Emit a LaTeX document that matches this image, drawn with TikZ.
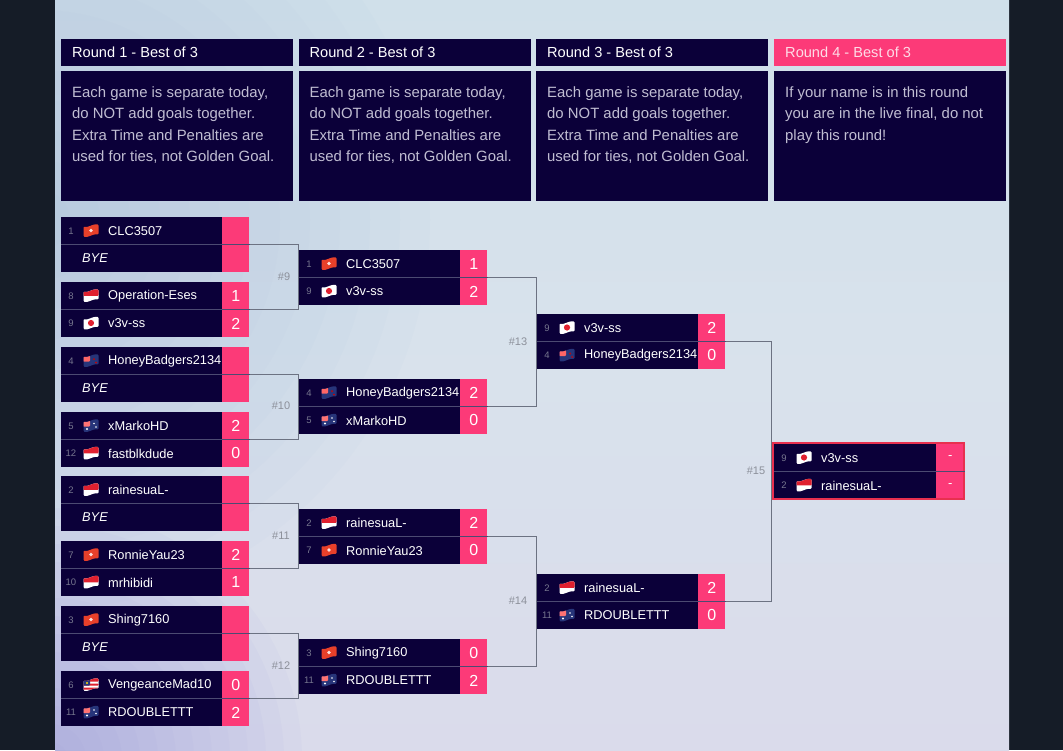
\documentclass[tikz,border=0pt]{standalone}
\usepackage{fontspec}
\setmainfont{Liberation Sans}
\definecolor{pagedark}{HTML}{151C27}
\definecolor{bgtop}{HTML}{D0E0EA}
\definecolor{bgmid}{HTML}{D9E2EC}
\definecolor{bgbot}{HTML}{DADBEB}
\definecolor{bgblue}{HTML}{8FB0D2}
\definecolor{bgcorner}{HTML}{8484D4}
\definecolor{navybox}{HTML}{0B0039}
\definecolor{pinkbox}{HTML}{FC3A78}
\definecolor{framered}{HTML}{E8304F}
\definecolor{linkgrey}{HTML}{6C7282}
\definecolor{rowline}{HTML}{4C4A72}
\definecolor{seedgrey}{HTML}{77778F}
\definecolor{notegrey}{HTML}{C0BDD2}
\definecolor{roundgrey}{HTML}{8C909A}
\definecolor{flagred}{HTML}{E0202F}
\definecolor{flagorange}{HTML}{E8402A}
\definecolor{flagblue}{HTML}{27357A}
\tikzset{
  every node/.style={inner sep=0pt},
  headbox/.style={fill=navybox,minimum width=232pt,minimum height=27pt,anchor=north west},
  headtext/.style={text=white,font=\fontsize{14.6}{17}\selectfont,anchor=west},
  notebox/.style={fill=navybox,minimum width=232pt,minimum height=130pt,anchor=north west},
  notetext/.style={text=notegrey,font=\fontsize{14.9}{21.4}\selectfont,align=left,anchor=north west},
  namebox/.style={fill=navybox,minimum width=\nomew pt,minimum height=27.5pt,anchor=north west},
  scorebox/.style={fill=pinkbox,text=white,minimum width=\puntow pt,minimum height=27.5pt,anchor=west,font=\fontsize{16}{18}\selectfont},
  seedtext/.style={text=seedgrey,font=\fontsize{9.5}{11}\selectfont},
  playertext/.style={text=white,font=\fontsize{12.8}{15}\selectfont,anchor=west},
  byetext/.style={text=white,font=\fontsize{12.8}{15}\selectfont\itshape,anchor=west},
  link/.style={draw=linkgrey,line width=1pt},
  divider/.style={draw=rowline,line width=1pt},
  matchno/.style={text=roundgrey,font=\fontsize{11}{13}\selectfont},
  finalframe/.style={draw=framered,line width=2.6pt,minimum width=191pt,minimum height=56pt},
}
\begin{document}
\begin{tikzpicture}[x=1pt,y=-1pt]
    \useasboundingbox (0,0) rectangle (1063,750);
    % --- reusable macros ----------------------------------------------
    \def\nomew{161}   % width of the player cell
    \def\puntow{27}   % width of the score cell
    \def\wave{(-7.5,-4) .. controls (-3,-2.5) and (2,-7) .. (7.5,-6) -- (7.5,4) .. controls (2,3) and (-3,7.5) .. (-7.5,6) -- cycle}
    \def\hk{\fill[flagorange] \wave; \fill[white!85!flagorange] (0,0) circle (1.9);}
    \def\idn{\fill[white] \wave; \clip (-8,-8) rectangle (8,0.3); \fill[flagred] \wave;}
    \def\jp{\fill[white] \wave; \fill[flagred] (0,0) circle (3.1);}
    \def\nz{\fill[flagblue] \wave; \clip \wave; \fill[red!60!white] (-8,-5) rectangle (-1,1); \fill[red!80!black] (3,-1.5) circle (1) (5,2) circle (1);}
    \def\au{\fill[flagblue] \wave; \clip \wave; \fill[red!55!white] (-8,-5) rectangle (-1,1); \fill[white] (3,-2) circle (0.9) (5,1.5) circle (0.9) (-4,3.5) circle (1.1);}
    \def\my{\fill[white] \wave; \clip \wave; \fill[flagred] (-8,-7) rectangle (8,-3) (-8,-1) rectangle (8,1) (-8,3) rectangle (8,5); \fill[flagblue] (-8,-5) rectangle (-1,1); \fill[yellow!85!orange] (-4,-1.5) circle (1.2);}
    % #1 name, #2 left, #3 top, #4 seed, #5 flag, #6 player, #7 score
    \def\slot#1#2#3#4#5#6#7{
        \node[namebox] (#1) at (#2,#3) {};
        \node[scorebox] (#1s) at ([xshift=-0.3pt]#1.east) {#7};
        \node[seedtext] (#1n) at ([xshift=10pt]#1.west) {#4};
        \node[playertext] (#1t) at ([xshift=47pt]#1.west) {#6};
        \begin{scope}[shift={(#2+30,#3+13.5)},rounded corners=1pt]
            \begin{scope} #5 \end{scope}
        \end{scope}
    }
    \def\byeslot#1#2#3{
        \node[namebox] (#1) at (#2,#3) {};
        \node[scorebox] (#1s) at ([xshift=-0.3pt]#1.east) {};
        \node[byetext] (#1t) at ([xshift=21pt]#1.west) {BYE};
    }
    % --- background ---------------------------------------------------
    \fill[pagedark] (0,0) rectangle (1063,750);
    \begin{scope}
        \clip (55,0) rectangle (1009,750);
        \fill[top color=bgtop,bottom color=bgbot,middle color=bgmid] (55,0) rectangle (1009,750);
        \foreach \r in {30,60,...,390}
            \fill[bgblue,opacity=0.03] (40,220) circle (\r);
        \foreach \r in {18,36,...,252}
            \fill[bgcorner,opacity=0.04] (50,760) circle (\r);
    \end{scope}
    % --- round headers ------------------------------------------------
    \node[headbox] (head1) at (61,39) {};
    \node[headbox] (head2) at (298.5,39) {};
    \node[headbox] (head3) at (536,39) {};
    \node[headbox,fill=pinkbox] (head4) at (774,39) {};
    \node[headtext] (head1t) at ([xshift=11pt]head1.west) {Round 1 - Best of 3};
    \node[headtext] (head2t) at ([xshift=11pt]head2.west) {Round 2 - Best of 3};
    \node[headtext] (head3t) at ([xshift=11pt]head3.west) {Round 3 - Best of 3};
    \node[headtext,text=white!82!pinkbox] (head4t) at ([xshift=11pt]head4.west) {Round 4 - Best of 3};
    % --- notes --------------------------------------------------------
    \def\notebody{Each game is separate today,\\do NOT add goals together.\\Extra Time and Penalties are\\used for ties, not Golden Goal.}
    \node[notebox] (note1) at (61,71) {};
    \node[notebox] (note2) at (298.5,71) {};
    \node[notebox] (note3) at (536,71) {};
    \node[notebox] (note4) at (774,71) {};
    \node[notetext] (note1t) at ([xshift=11pt,yshift=-15.5pt]note1.north west) {\notebody};
    \node[notetext] (note2t) at ([xshift=11pt,yshift=-15.5pt]note2.north west) {\notebody};
    \node[notetext] (note3t) at ([xshift=11pt,yshift=-15.5pt]note3.north west) {\notebody};
    \node[notetext] (note4t) at ([xshift=11pt,yshift=-15.5pt]note4.north west) {If your name is in this round\\you are in the live final, do not\\play this round!};
    % --- round 1 ------------------------------------------------------
    \slot{a1}{61}{217}{1}{\hk}{CLC3507}{}
    \byeslot{a2}{61}{244.5}
    \slot{a3}{61}{282}{8}{\idn}{Operation-Eses}{1}
    \slot{a4}{61}{309.5}{9}{\jp}{v3v-ss}{2}
    \slot{a5}{61}{347}{4}{\nz}{HoneyBadgers2134}{}
    \byeslot{a6}{61}{374.5}
    \slot{a7}{61}{412}{5}{\au}{xMarkoHD}{2}
    \slot{a8}{61}{439.5}{12}{\idn}{fastblkdude}{0}
    \slot{a9}{61}{476}{2}{\idn}{rainesuaL-}{}
    \byeslot{a10}{61}{503.5}
    \slot{a11}{61}{541}{7}{\hk}{RonnieYau23}{2}
    \slot{a12}{61}{568.5}{10}{\idn}{mrhibidi}{1}
    \slot{a13}{61}{606}{3}{\hk}{Shing7160}{}
    \byeslot{a14}{61}{633.5}
    \slot{a15}{61}{671}{6}{\my}{VengeanceMad10}{0}
    \slot{a16}{61}{698.5}{11}{\au}{RDOUBLETTT}{2}
    % --- round 2 ------------------------------------------------------
    \slot{b1}{299}{250}{1}{\hk}{CLC3507}{1}
    \slot{b2}{299}{277.5}{9}{\jp}{v3v-ss}{2}
    \slot{b3}{299}{379}{4}{\nz}{HoneyBadgers2134}{2}
    \slot{b4}{299}{406.5}{5}{\au}{xMarkoHD}{0}
    \slot{b5}{299}{509}{2}{\idn}{rainesuaL-}{2}
    \slot{b6}{299}{536.5}{7}{\hk}{RonnieYau23}{0}
    \slot{b7}{299}{639}{3}{\hk}{Shing7160}{0}
    \slot{b8}{299}{666.5}{11}{\au}{RDOUBLETTT}{2}
    % --- round 3 ------------------------------------------------------
    \slot{c1}{537}{314}{9}{\jp}{v3v-ss}{2}
    \slot{c2}{537}{341.5}{4}{\nz}{HoneyBadgers2134}{0}
    \slot{c3}{537}{574}{2}{\idn}{rainesuaL-}{2}
    \slot{c4}{537}{601.5}{11}{\au}{RDOUBLETTT}{0}
    % --- final --------------------------------------------------------
    \def\puntow{28}
    \def\nomew{162}
    \slot{d1}{774}{444}{9}{\jp}{v3v-ss}{\fontsize{13}{14}\selectfont -}
    \slot{d2}{774}{471.5}{2}{\idn}{rainesuaL-}{\fontsize{13}{14}\selectfont -}
    \node[finalframe] (frame) at (868.5,471) {};
    % --- row lines ----------------------------------------------------
    \draw[divider] (a1.south west) -- (a1s.south east);
    \draw[divider] (a3.south west) -- (a3s.south east);
    \draw[divider] (a5.south west) -- (a5s.south east);
    \draw[divider] (a7.south west) -- (a7s.south east);
    \draw[divider] (a9.south west) -- (a9s.south east);
    \draw[divider] (a11.south west) -- (a11s.south east);
    \draw[divider] (a13.south west) -- (a13s.south east);
    \draw[divider] (a15.south west) -- (a15s.south east);
    \draw[divider] (b1.south west) -- (b1s.south east);
    \draw[divider] (b3.south west) -- (b3s.south east);
    \draw[divider] (b5.south west) -- (b5s.south east);
    \draw[divider] (b7.south west) -- (b7s.south east);
    \draw[divider] (c1.south west) -- (c1s.south east);
    \draw[divider] (c3.south west) -- (c3s.south east);
    \draw[divider] (d1.south west) -- (d1s.south east);
    % --- connectors ---------------------------------------------------
    \draw[link] (a1s.south east) -| ([xshift=-0.5pt]b1.west) |- (a3s.south east);
    \draw[link] (a5s.south east) -| ([xshift=-0.5pt]b3.west) |- (a7s.south east);
    \draw[link] (a9s.south east) -| ([xshift=-0.5pt]b5.west) |- (a11s.south east);
    \draw[link] (a13s.south east) -| ([xshift=-0.5pt]b7.west) |- (a15s.south east);
    \draw[link] (b1s.south east) -| ([xshift=-0.5pt]c1.west) |- (b3s.south east);
    \draw[link] (b5s.south east) -| ([xshift=-0.5pt]c3.west) |- (b7s.south east);
    \draw[link] (c1s.south east) -| ([xshift=-0.5pt]frame.west) |- (c3s.south east);
    % --- match numbers ------------------------------------------------
    \node[matchno] (no9) at (284,277) {\#9};
    \node[matchno] (no10) at (281,406) {\#10};
    \node[matchno] (no11) at (281,536) {\#11};
    \node[matchno] (no12) at (281,666) {\#12};
    \node[matchno] (no13) at (518,342) {\#13};
    \node[matchno] (no14) at (518,601) {\#14};
    \node[matchno] (no15) at (756,471) {\#15};
\end{tikzpicture}
\end{document}
